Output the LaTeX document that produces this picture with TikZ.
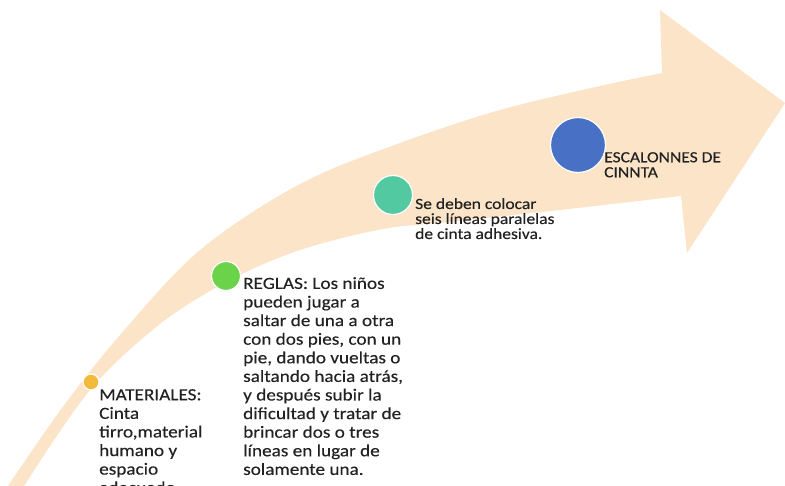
\documentclass[tikz,border=0pt]{standalone}
\usepackage{fontspec}
\setmainfont{Carlito}[FakeStretch=1.13,FakeBold=0.3]
\definecolor{arrowfill}{HTML}{FBE4C8}
\definecolor{dotyellow}{HTML}{F2B93B}
\definecolor{dotgreen}{HTML}{6AD34A}
\definecolor{dotteal}{HTML}{52C9A1}
\definecolor{dotblue}{HTML}{4870C5}
\definecolor{txt}{HTML}{222222}
\begin{document}
\begin{tikzpicture}[x=1pt,y=-1pt,
  dot/.style={circle,draw=white,line width=1.2pt,inner sep=0pt},
  bigtext/.style={anchor=north west,inner sep=0pt,align=left,text=txt,font=\fontsize{17}{18.6}\selectfont},
  smalltext/.style={anchor=north west,inner sep=0pt,align=left,text=txt,font=\fontsize{15.5}{15}\selectfont}]
\useasboundingbox (0,0) rectangle (785,486);
\clip (0,0) rectangle (785,486);
% curved arrow
\fill[arrowfill] plot[smooth,tension=0.55] coordinates {(8,486) (62,408) (120,335) (200,250) (300,184) (400,143) (500,110) (600,86) (662,73)}
  -- (660,10) -- (785,103) -- (687,253) -- (681,196)
  -- plot[smooth,tension=0.55] coordinates {(681,196) (560,210) (450,222) (383,229) (300,250) (230,280) (160,324) (90,390) (24,486)}
  -- cycle;
% dots
\node[dot,fill=dotyellow,minimum size=16pt] (d1) at (91,382) {};
\node[dot,fill=dotgreen,minimum size=29pt] (d2) at (226,276) {};
\node[dot,fill=dotteal,minimum size=39pt] (d3) at (393,195) {};
\node[dot,fill=dotblue,minimum size=55pt] (d4) at (578,145) {};
% texts
\node[bigtext] (t1) at (99,389) {MATERIALES:\\Cinta\\tirro,material\\humano y\\espacio\\adecuado};
\node[bigtext] (t2) at (243,277) {REGLAS: Los niños\\pueden jugar a\\saltar de una a otra\\con dos pies, con un\\pie, dando vueltas o\\saltando hacia atrás,\\y después subir la\\dificultad y tratar de\\brincar dos o tres\\líneas en lugar de\\solamente una.};
\node[smalltext] (t3) at (415,198) {Se deben colocar\\seis líneas paralelas\\de cinta adhesiva.};
\node[smalltext] (t4) at (604,152) {ESCALONNES DE\\CINNTA};
\end{tikzpicture}
\end{document}
